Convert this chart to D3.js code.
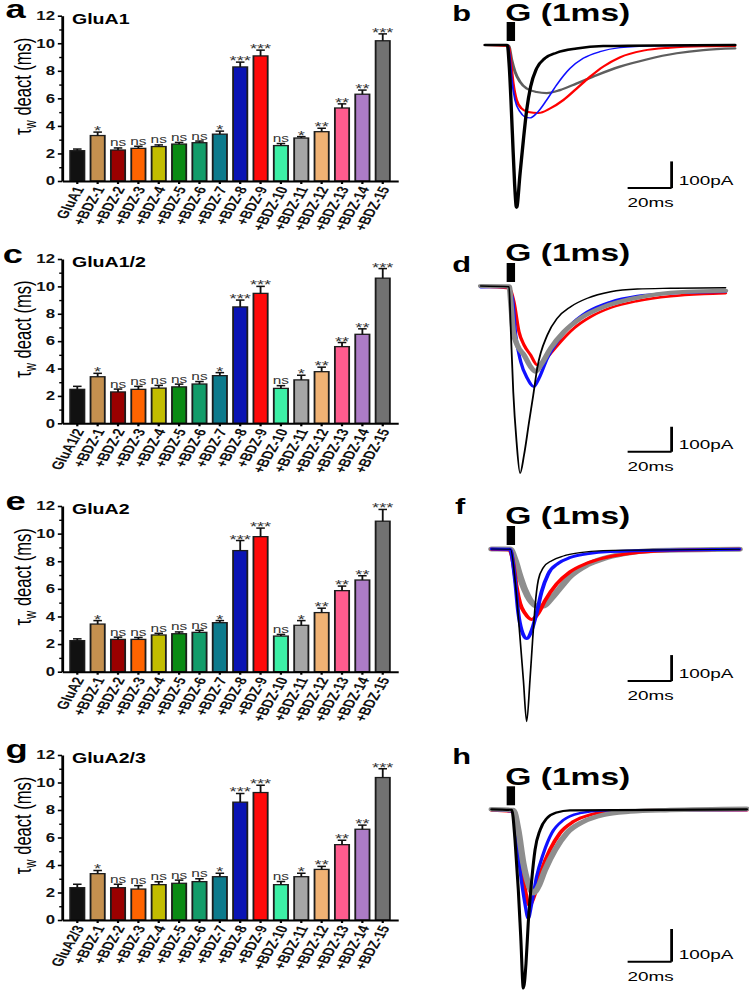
<!DOCTYPE html>
<html>
<head>
<meta charset="utf-8">
<script src="https://cdn.jsdelivr.net/npm/d3@7"></script>
<style>
body { margin: 0; background: #fff; }
svg { display: block; }
text { font-family: "Liberation Sans", Arial, Helvetica, sans-serif; }
</style>
</head>
<body>
<svg id="fig" width="749" height="994" viewBox="0 0 535 994" preserveAspectRatio="none"></svg>
<script>
// bar charts: tau weighted deactivation (ms)
var bdzLabels = ["+BDZ-1", "+BDZ-2", "+BDZ-3", "+BDZ-4", "+BDZ-5", "+BDZ-6", "+BDZ-7", "+BDZ-8",
  "+BDZ-9", "+BDZ-10", "+BDZ-11", "+BDZ-12", "+BDZ-13", "+BDZ-14", "+BDZ-15"];
var receptors = ["GluA1", "GluA1/2", "GluA2", "GluA2/3"];
var yTicks = [0, 2, 4, 6, 8, 10, 12];
var sigMarks = ["", "*", "ns", "ns", "ns", "ns", "ns", "*", "***", "***", "ns", "*", "**", "**", "**", "***"];
var barColors = ["#111111", "#c4904f", "#9a0000", "#ff6400", "#c2bd00", "#0a8a14", "#139c6a", "#0d7a8c",
  "#0a14b4", "#ff0a0a", "#3df0a6", "#a6a6a6", "#f0b274", "#ff5c8e", "#ad7cc6", "#727272"];

var glua1Mean = [2.2, 3.3, 2.25, 2.37, 2.5, 2.68, 2.78, 3.4, 8.28, 9.08, 2.57, 3.12, 3.58, 5.3, 6.3, 10.18];
var glua1Sem = [0.12, 0.25, 0.15, 0.15, 0.12, 0.12, 0.12, 0.22, 0.35, 0.42, 0.15, 0.1, 0.25, 0.3, 0.3, 0.5];
var glua12Mean = [2.48, 3.4, 2.29, 2.48, 2.57, 2.66, 2.87, 3.48, 8.5, 9.49, 2.55, 3.17, 3.77, 5.6, 6.5, 10.6];
var glua12Sem = [0.22, 0.25, 0.21, 0.22, 0.2, 0.2, 0.18, 0.22, 0.5, 0.51, 0.2, 0.34, 0.33, 0.3, 0.4, 0.7];
var glua2Mean = [2.25, 3.45, 2.34, 2.34, 2.66, 2.75, 2.85, 3.55, 8.77, 9.78, 2.58, 3.36, 4.28, 5.87, 6.64, 10.9];
var glua2Sem = [0.13, 0.25, 0.16, 0.14, 0.12, 0.13, 0.15, 0.15, 0.73, 0.62, 0.12, 0.34, 0.32, 0.33, 0.31, 0.85];
var glua23Mean = [2.35, 3.37, 2.35, 2.25, 2.57, 2.67, 2.79, 3.15, 8.57, 9.27, 2.57, 3.15, 3.68, 5.48, 6.6, 10.36];
var glua23Sem = [0.25, 0.23, 0.25, 0.25, 0.21, 0.23, 0.21, 0.25, 0.63, 0.53, 0.23, 0.25, 0.22, 0.32, 0.3, 0.64];

// current traces: [time ms, current pA], glutamate 1 ms at t = 0
var bCtrl = [[-9.8,0],[0.3,0],[1.2,-81],[2.6,-331],[3.6,-519],[4.5,-610],[6.1,-481],[7.6,-356],[9.1,-244],[10.9,-156],[13.6,-88],[17.4,-50],[22.7,-29],[31.8,-13],[43.9,-4],[103.8,0]];
var bGray = [[-9.8,0],[0.9,-2],[2.3,-56],[3.8,-100],[6.1,-138],[9.1,-163],[13.6,-176],[18.2,-180],[24.2,-169],[31.8,-144],[40.9,-113],[51.5,-81],[63.6,-54],[77.3,-31],[89.4,-19],[103.8,-13]];
var bBlue = [[-9.8,0],[0.6,-1],[1.5,-44],[2.4,-131],[3.8,-206],[6.1,-250],[8.3,-269],[10.6,-273],[13.6,-256],[18.2,-206],[22.7,-150],[28.8,-88],[34.8,-50],[42.4,-25],[51.5,-10],[66.7,-3],[103.8,0]];
var bRed = [[-9.8,0],[0.9,-4],[1.8,-56],[3.0,-144],[4.5,-206],[6.8,-238],[9.8,-251],[14.4,-255],[19.7,-238],[25.8,-206],[31.8,-163],[37.9,-119],[43.9,-81],[51.5,-46],[62.1,-21],[74.2,-10],[89.4,-5],[103.8,-4]];

var dCtrl = [[-11.8,0],[1.1,-3],[1.8,-156],[3.0,-423],[4.5,-623],[6.1,-749],[7.9,-676],[10.2,-543],[12.1,-436],[13.9,-329],[18.5,-196],[23.0,-129],[29.1,-83],[36.7,-49],[47.3,-23],[59.4,-12],[74.5,-9],[99.5,-7]];
var dGray = [[-11.8,0],[1.1,-1],[2.1,-89],[3.0,-183],[4.8,-236],[7.9,-276],[10.9,-323],[13.2,-343],[15.5,-316],[20.0,-249],[26.1,-183],[33.6,-129],[44.2,-83],[56.4,-52],[68.5,-33],[82.1,-23],[99.5,-19]];
var dBlue = [[-11.8,-5],[0.3,-3],[2.6,-49],[4.1,-196],[6.4,-303],[9.4,-369],[12.4,-403],[14.7,-369],[18.5,-289],[23.0,-223],[29.1,-156],[36.7,-103],[47.3,-63],[59.4,-40],[74.5,-29],[99.5,-23]];
var dRed = [[-11.8,-3],[1.1,-9],[3.3,-63],[5.6,-183],[7.9,-236],[10.9,-276],[13.9,-316],[16.2,-305],[20.0,-269],[24.5,-223],[30.6,-169],[38.2,-123],[47.3,-87],[59.4,-60],[74.5,-41],[89.7,-32],[99.5,-29]];

var fCtrl = [[-6.8,0],[1.8,-1],[3.8,-119],[5.8,-312],[7.6,-504],[9.1,-664],[10.6,-504],[11.8,-350],[12.9,-222],[14.4,-119],[16.7,-71],[20.5,-45],[25.8,-27],[33.3,-14],[43.9,-6],[59.1,-4],[105.8,-1]];
var fGray = [[-6.8,0],[1.5,0],[3.8,-42],[6.1,-106],[8.3,-158],[10.6,-196],[13.6,-219],[16.7,-219],[19.7,-196],[24.2,-151],[28.8,-106],[36.4,-62],[43.9,-37],[53.0,-19],[66.7,-6],[105.8,-1]];
var fRed = [[-6.8,-1],[1.5,-4],[3.0,-55],[4.5,-145],[6.1,-209],[8.3,-247],[11.4,-271],[14.4,-247],[17.4,-199],[22.7,-135],[28.8,-88],[36.4,-55],[43.9,-35],[56.1,-17],[74.2,-6],[105.8,-1]];
var fBlue = [[-6.8,0],[1.5,-1],[3.8,-119],[5.3,-247],[6.8,-312],[9.1,-345],[11.4,-312],[13.6,-247],[15.9,-164],[18.9,-96],[23.5,-55],[28.8,-33],[36.4,-19],[47.0,-10],[105.8,-1]];

var hCtrl = [[-6.8,0],[2.3,-2],[3.8,-94],[5.3,-247],[6.4,-390],[7.6,-548],[8.8,-471],[9.8,-349],[11.4,-216],[12.9,-124],[15.2,-63],[18.2,-28],[22.7,-10],[28.8,-3],[109.1,0]];
var hBlue = [[-6.8,-2],[3.0,-7],[4.5,-84],[6.1,-186],[8.3,-288],[9.8,-334],[11.4,-288],[13.6,-206],[16.7,-135],[20.5,-73],[25.8,-33],[33.3,-12],[43.9,-4],[109.1,-2]];
var hRed = [[-6.8,-3],[3.0,-7],[5.3,-104],[7.6,-216],[10.3,-293],[12.9,-257],[15.9,-186],[19.7,-124],[24.2,-73],[30.3,-38],[37.9,-17],[48.5,-7],[74.2,-2],[109.1,-2]];
var hGray = [[-6.8,0],[3.0,-2],[5.3,-63],[7.6,-165],[9.8,-227],[12.1,-257],[14.4,-237],[17.4,-186],[22.0,-124],[27.3,-73],[34.8,-38],[43.9,-17],[56.1,-7],[74.2,-2],[109.1,2]];

var svg = d3.select("#fig");

function panelLetter(txt, x, y, size) {
  svg.append("text").attr("x", x).attr("y", y).attr("font-size", size)
    .attr("font-weight", "bold").text(txt);
}

// bar chart panel
function barPanel(top, bottom, name, means, sems) {
  var labels = [name].concat(bdzLabels);
  var x = d3.scaleBand().domain(d3.range(labels.length)).range([44.3, 284.3])
    .paddingInner(0.3).paddingOuter(0.4);
  var y = d3.scaleLinear().domain([0, 12]).range([bottom, top]);
  var g = svg.append("g");

  g.selectAll(".bar").data(means).enter().append("rect")
    .attr("x", function(d, i) { return x(i); })
    .attr("y", function(d) { return y(d); })
    .attr("width", x.bandwidth())
    .attr("height", function(d) { return y(0) - y(d); })
    .attr("fill", function(d, i) { return barColors[i]; })
    .attr("stroke", "#1c1c1c").attr("stroke-width", 1.3);

  var cx = function(i) { return x(i) + x.bandwidth() / 2; };
  g.selectAll(".err").data(means).enter().append("line")
    .attr("x1", function(d, i) { return cx(i); }).attr("x2", function(d, i) { return cx(i); })
    .attr("y1", function(d) { return y(d); })
    .attr("y2", function(d, i) { return y(d + sems[i]); })
    .attr("stroke", "#111").attr("stroke-width", 1.3);
  g.selectAll(".cap").data(means).enter().append("line")
    .attr("x1", function(d, i) { return cx(i) - x.bandwidth() * 0.3; })
    .attr("x2", function(d, i) { return cx(i) + x.bandwidth() * 0.3; })
    .attr("y1", function(d, i) { return y(d + sems[i]); })
    .attr("y2", function(d, i) { return y(d + sems[i]); })
    .attr("stroke", "#111").attr("stroke-width", 1.5);

  g.selectAll(".sig").data(means).enter().append("text")
    .attr("x", function(d, i) { return cx(i); })
    .attr("y", function(d, i) { return y(d + sems[i]) + (sigMarks[i] == "ns" ? -1.5 : 3); })
    .attr("text-anchor", "middle")
    .attr("font-size", function(d, i) { return sigMarks[i] == "ns" ? 11 : 13; })
    .attr("fill", "#333")
    .text(function(d, i) { return sigMarks[i]; });

  // y axis with minor ticks
  var ya = g.append("g").attr("transform", "translate(44.3,0)")
    .call(d3.axisLeft(y).tickValues(yTicks).tickSize(3).tickSizeOuter(0).tickPadding(2));
  ya.select(".domain").attr("stroke-width", 2);
  ya.selectAll(".tick line").attr("stroke-width", 1.6);
  ya.selectAll("text").attr("font-size", 12).attr("font-weight", "bold").attr("fill", "#111");
  g.append("g").attr("transform", "translate(44.3,0)")
    .call(d3.axisLeft(y).tickValues([1, 3, 5, 7, 9, 11]).tickSize(2).tickFormat(""))
    .call(function(s) { s.select(".domain").remove(); s.selectAll("line").attr("stroke-width", 1.4); });

  var xa = g.append("g").attr("transform", "translate(0," + bottom + ")")
    .call(d3.axisBottom(x).tickSize(3).tickSizeOuter(0).tickFormat(function(i) { return labels[i]; }));
  xa.select(".domain").attr("stroke-width", 2);
  xa.selectAll(".tick line").attr("stroke-width", 1.6);
  xa.selectAll("text").attr("font-size", 11.5).attr("font-weight", "bold").attr("fill", "#111")
    .attr("x", 0).attr("y", 0).attr("dy", "0.35em")
    .attr("text-anchor", "end").attr("transform", "translate(1.5,6) rotate(-67)");

  g.append("text").attr("x", 51.4).attr("y", top + 8).attr("font-size", 14)
    .attr("font-weight", "bold").text(name);

  var yl = g.append("text").attr("text-anchor", "middle").attr("font-size", 16.5)
    .attr("transform", "translate(22," + ((top + bottom) / 2 - 12) + ") rotate(-90)");
  yl.append("tspan").text("τ");
  yl.append("tspan").attr("font-size", 11.5).attr("dy", 4).text("w");
  yl.append("tspan").attr("dy", -4).text(" deact (ms)");
}

// trace panel
function tracePanel(base, pxPerPA, barBottom, traces) {
  var xs = d3.scaleLinear().domain([0, 100]).range([361.9, 361.9 + 157.1]);
  var ys = d3.scaleLinear().domain([0, -100]).range([base, base + 100 * pxPerPA]);
  var line = d3.line().x(function(d) { return xs(d[0]); }).y(function(d) { return ys(d[1]); })
    .curve(d3.curveMonotoneX);
  var g = svg.append("g");

  traces.forEach(function(t) {
    g.append("path").datum(t.data).attr("d", line).attr("fill", "none")
      .attr("stroke", t.color).attr("stroke-width", t.width)
      .attr("stroke-linejoin", "round").attr("stroke-linecap", "round");
  });

  g.append("rect").attr("x", xs(0)).attr("y", base - 23).attr("width", 6).attr("height", 19).attr("fill", "#000");
  g.append("text").attr("x", xs(0) - 1).attr("y", base - 24.5).attr("font-size", 24)
    .attr("font-weight", "bold").text("G (1ms)");

  // scale bars 20 ms / 100 pA
  var yb = ys(barBottom);
  g.append("line").attr("x1", xs(55)).attr("x2", xs(75)).attr("y1", yb).attr("y2", yb)
    .attr("stroke", "#000").attr("stroke-width", 2);
  g.append("line").attr("x1", xs(75)).attr("x2", xs(75)).attr("y1", yb).attr("y2", ys(barBottom + 100))
    .attr("stroke", "#000").attr("stroke-width", 2);
  g.append("text").attr("x", xs(78.2)).attr("y", yb - 3).attr("font-size", 13.5).text("100pA");
  g.append("text").attr("x", xs(55)).attr("y", yb + 19).attr("font-size", 13.5).text("20ms");
}

barPanel(15.7, 181, receptors[0], glua1Mean, glua1Sem);
barPanel(259, 423.3, receptors[1], glua12Mean, glua12Sem);
barPanel(506, 671.7, receptors[2], glua2Mean, glua2Sem);
barPanel(755, 920, receptors[3], glua23Mean, glua23Sem);

tracePanel(45, 0.267, -536, [
  {data: bGray, color: "#5e5e5e", width: 2.2},
  {data: bRed, color: "#ff0000", width: 2},
  {data: bBlue, color: "#1010ff", width: 1.3},
  {data: bCtrl, color: "#000", width: 2.4}
]);
tracePanel(286, 0.25, -663, [
  {data: dRed, color: "#ff0000", width: 2.4},
  {data: dBlue, color: "#1010ff", width: 2.4},
  {data: dGray, color: "#8a8a8a", width: 4},
  {data: dCtrl, color: "#000", width: 1.3}
]);
tracePanel(549, 0.26, -508, [
  {data: fGray, color: "#8e8e8e", width: 5},
  {data: fRed, color: "#ff0000", width: 3},
  {data: fBlue, color: "#1010ff", width: 2.8},
  {data: fCtrl, color: "#000", width: 1.2}
]);
tracePanel(809.3, 0.327, -466, [
  {data: hRed, color: "#ff0000", width: 3},
  {data: hBlue, color: "#1010ff", width: 2.4},
  {data: hGray, color: "#8e8e8e", width: 4.5},
  {data: hCtrl, color: "#000", width: 2.2}
]);

panelLetter("a", 4, 18, 26);
panelLetter("c", 2, 263, 26);
panelLetter("e", 4, 510, 26);
panelLetter("g", 4, 758, 26);
panelLetter("b", 323, 21, 22);
panelLetter("d", 323, 272, 22);
panelLetter("f", 325, 514, 22);
panelLetter("h", 323, 764, 22);
</script>
</body>
</html>
